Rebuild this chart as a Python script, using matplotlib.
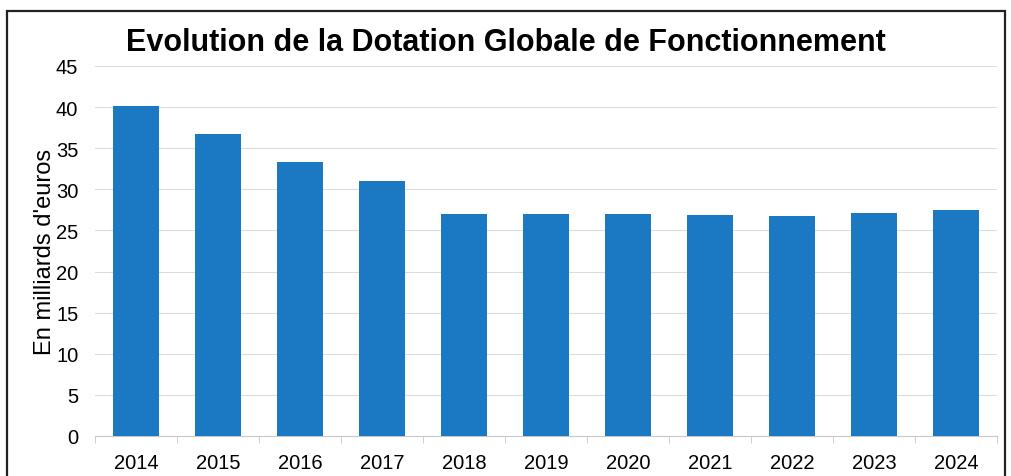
import numpy as np
import matplotlib
matplotlib.use('Agg')
import matplotlib.pyplot as plt
from matplotlib.patches import Rectangle

years = ['2014', '2015', '2016', '2017', '2018', '2019', '2020', '2021', '2022', '2023', '2024']
dgf = [40.1, 36.7, 33.3, 31.0, 27.0, 27.0, 27.0, 26.9, 26.8, 27.1, 27.5]
yticks = [0, 5, 10, 15, 20, 25, 30, 35, 40, 45]

plt.rcParams['font.family'] = ['Liberation Sans', 'DejaVu Sans']

fig = plt.figure(figsize=(10.12, 4.77), dpi=100)
ax = fig.add_axes([95 / 1012, 1 - 437 / 477, (997 - 95) / 1012, (437 - 67) / 477])

x = np.arange(len(years))
ax.bar(x, dgf, width=0.57, color='#1B78C2', zorder=3)

ax.set_xlim(-0.5, len(years) - 0.5)
ax.set_ylim(0, 45)
ax.set_yticks(yticks)
ax.set_yticklabels([str(v) for v in yticks], fontsize=14.5)
ax.set_xticks(x)
ax.set_xticklabels(years, fontsize=14.5)
ax.set_xticks(np.arange(-0.5, len(years)), minor=True)
ax.tick_params(axis='x', which='major', length=0, pad=12)
ax.tick_params(axis='x', which='minor', length=5, color='#c8c8c8', direction='out')
ax.tick_params(axis='y', length=0, pad=12)

ax.grid(axis='y', color='#dcdcdc', linewidth=0.8, zorder=0)
for s in ['top', 'right', 'left']:
    ax.spines[s].set_visible(False)
ax.spines['bottom'].set_color('#c8c8c8')

ax.set_ylabel("En milliards d'euros", fontsize=17, labelpad=0)
fig.text(0.5, 1 - 43 / 477, 'Evolution de la Dotation Globale de Fonctionnement',
         ha='center', va='center', fontsize=22, fontweight='bold')

# outer frame of the scanned page
fig.patches.append(Rectangle((7 / 1012, -0.05), (1005 - 7) / 1012, 1.05 - 12 / 477,
                             transform=fig.transFigure, fill=False,
                             edgecolor='#222222', linewidth=1.6))

fig.savefig('out.png', dpi=100)
